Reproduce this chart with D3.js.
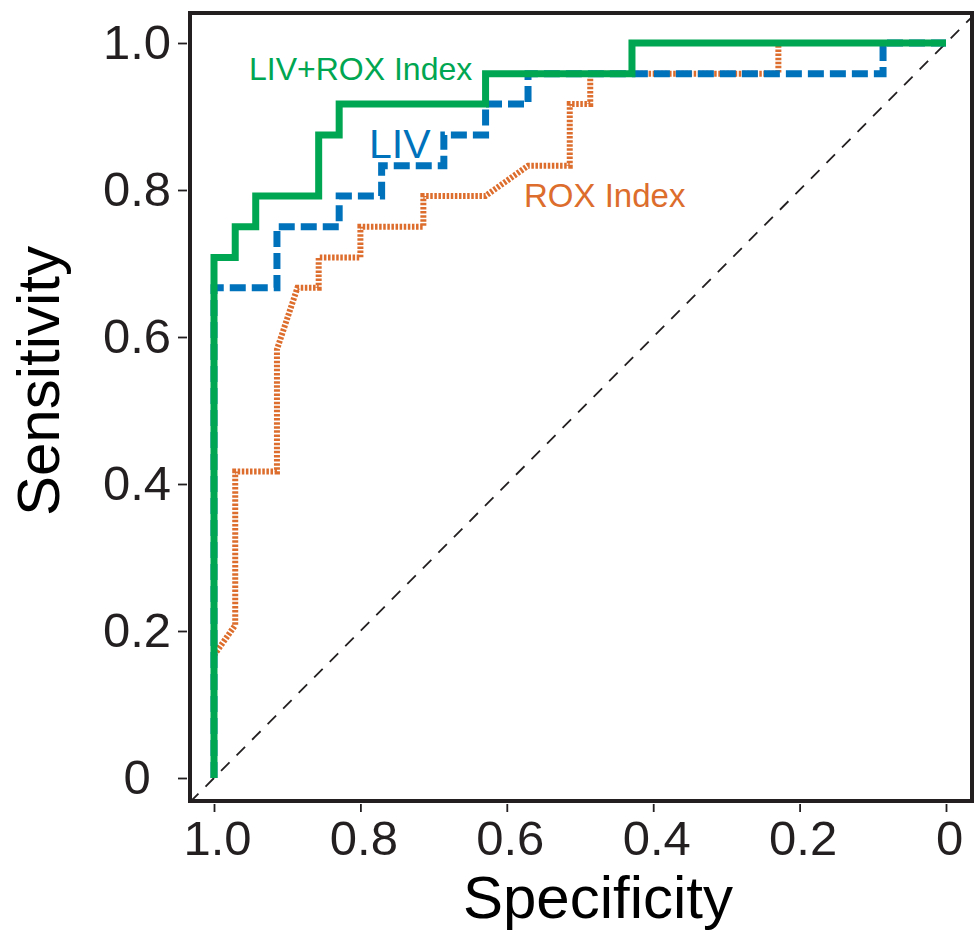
<!DOCTYPE html>
<html>
<head>
<meta charset="utf-8">
<script src="https://cdn.jsdelivr.net/npm/d3@7"></script>
<style>
  body { margin: 0; background: #fff; }
  svg { display: block; font-family: "Liberation Sans", Arial, Helvetica, sans-serif; }
</style>
</head>
<body>
<svg id="chart" width="974" height="932"></svg>
<script>
// ROC curves (specificity, sensitivity)
const livRoxSpec = [1, 1, 0.971, 0.971, 0.943, 0.943, 0.857, 0.857, 0.829, 0.829, 0.629, 0.629, 0.429, 0.429, 0];
const livRoxSens = [0, 0.708, 0.708, 0.750, 0.750, 0.792, 0.792, 0.875, 0.875, 0.917, 0.917, 0.958, 0.958, 1, 1];

const livSpec = [1, 1, 0.914, 0.914, 0.829, 0.829, 0.771, 0.771, 0.686, 0.686, 0.629, 0.629, 0.571, 0.571, 0.086, 0.086, 0];
const livSens = [0, 0.667, 0.667, 0.750, 0.750, 0.792, 0.792, 0.833, 0.833, 0.875, 0.875, 0.917, 0.917, 0.958, 0.958, 1, 1];

const roxSpec = [1, 1, 0.971, 0.971, 0.914, 0.914, 0.886, 0.857, 0.857, 0.800, 0.800, 0.714, 0.714, 0.629, 0.571, 0.514, 0.514, 0.486, 0.486, 0.229, 0.229, 0];
const roxSens = [0, 0.167, 0.208, 0.417, 0.417, 0.583, 0.667, 0.667, 0.708, 0.708, 0.750, 0.750, 0.792, 0.792, 0.833, 0.833, 0.917, 0.917, 0.958, 0.958, 1, 1];

const xTicks = [1, 0.8, 0.6, 0.4, 0.2, 0];
const yTicks = [0, 0.2, 0.4, 0.6, 0.8, 1];
const tickText = d => d === 0 ? "0" : d3.format(".1f")(d);

const ink = "#231f20";
const box = {left: 190, top: 13, right: 972, bottom: 801};

const svg = d3.select("#chart");

const x = d3.scaleLinear().domain([1, 0]).range([214, 946]);
const y = d3.scaleLinear().domain([0, 1]).range([778, 43]);

svg.append("defs").append("clipPath").attr("id", "plotClip")
    .append("rect")
    .attr("x", box.left).attr("y", box.top)
    .attr("width", box.right - box.left).attr("height", box.bottom - box.top);

// reference diagonal, clipped to the box
const plot = svg.append("g").attr("clip-path", "url(#plotClip)");
const s0 = x.invert(box.left), s1 = x.invert(box.right);
plot.append("line")
    .attr("x1", x(s0)).attr("y1", y(1 - s0))
    .attr("x2", x(s1)).attr("y2", y(1 - s1))
    .attr("stroke", ink)
    .attr("stroke-width", 1.8)
    .attr("stroke-dasharray", "12,10");

const line = d3.line().x(d => x(d[0])).y(d => y(d[1]));

const series = [
    {spec: roxSpec, sens: roxSens, color: "#dc6d2c", width: 6, dash: "2.5,1.6"},
    {spec: livSpec, sens: livSens, color: "#0072bc", width: 7, dash: "16,6"},
    {spec: livRoxSpec, sens: livRoxSens, color: "#00a651", width: 7, dash: null}
];

series.forEach(s => {
    plot.append("path")
        .datum(d3.zip(s.spec, s.sens))
        .attr("d", line)
        .attr("fill", "none")
        .attr("stroke", s.color)
        .attr("stroke-width", s.width)
        .attr("stroke-linejoin", "miter")
        .attr("stroke-dasharray", s.dash);
});

// box
svg.append("rect")
    .attr("x", box.left).attr("y", box.top)
    .attr("width", box.right - box.left).attr("height", box.bottom - box.top)
    .attr("fill", "none")
    .attr("stroke", ink)
    .attr("stroke-width", 4);

// axes
const yAxis = svg.append("g")
    .attr("transform", "translate(187,0)")
    .call(d3.axisLeft(y).tickValues(yTicks).tickFormat(tickText).tickSize(9).tickSizeOuter(0));
const xAxis = svg.append("g")
    .attr("transform", "translate(0,804)")
    .call(d3.axisBottom(x).tickValues(xTicks).tickFormat(tickText).tickSize(8).tickSizeOuter(0));

[xAxis, yAxis].forEach(a => {
    a.select(".domain").remove();
    a.selectAll(".tick line").attr("stroke", ink).attr("stroke-width", 1.8);
    a.selectAll(".tick text")
        .attr("fill", ink)
        .style("font-size", "49px")
        .style("font-family", "'Liberation Sans', Arial, Helvetica, sans-serif");
});
yAxis.selectAll(".tick text")
    .attr("text-anchor", "middle")
    .attr("x", -50)
    .attr("dy", "15px");
xAxis.selectAll(".tick text")
    .attr("x", 3)
    .attr("y", 51)
    .attr("dy", 0);

// axis titles
svg.append("text")
    .attr("x", 598).attr("y", 918)
    .attr("text-anchor", "middle")
    .attr("fill", "#000")
    .style("font-size", "60px")
    .text("Specificity");

svg.append("text")
    .attr("transform", "translate(59,381) rotate(-90)")
    .attr("text-anchor", "middle")
    .attr("fill", "#000")
    .style("font-size", "60px")
    .text("Sensitivity");

// curve labels
const labels = [
    {text: "LIV+ROX Index", x: 249, y: 80, size: 32, color: "#00a651"},
    {text: "LIV", x: 369, y: 158, size: 41, color: "#0072bc"},
    {text: "ROX Index", x: 524, y: 207, size: 33, color: "#dc6d2c"}
];
svg.selectAll(".curve-label")
    .data(labels)
    .enter()
    .append("text")
    .attr("class", "curve-label")
    .attr("x", d => d.x)
    .attr("y", d => d.y)
    .attr("fill", d => d.color)
    .style("font-size", d => d.size + "px")
    .text(d => d.text);
</script>
</body>
</html>
